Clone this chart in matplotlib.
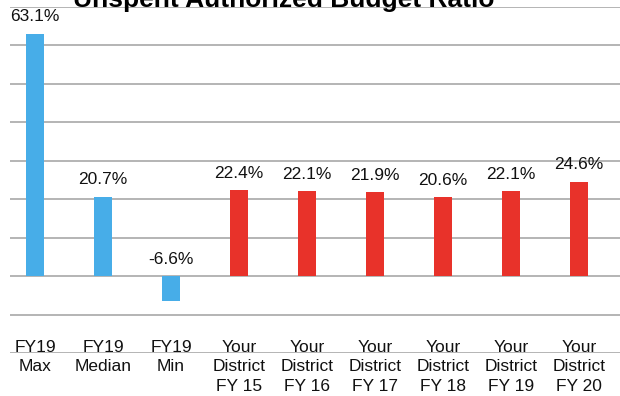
import matplotlib
matplotlib.use('Agg')
import matplotlib.pyplot as plt

# category labels and unspent budget ratios (%)
categories = ['FY19\nMax', 'FY19\nMedian', 'FY19\nMin',
              'Your\nDistrict\nFY 15', 'Your\nDistrict\nFY 16', 'Your\nDistrict\nFY 17',
              'Your\nDistrict\nFY 18', 'Your\nDistrict\nFY 19', 'Your\nDistrict\nFY 20']
values = [63.1, 20.7, -6.6, 22.4, 22.1, 21.9, 20.6, 22.1, 24.6]
groups = ['state', 'state', 'state', 'district', 'district', 'district',
          'district', 'district', 'district']

group_colors = {'state': '#47ADE8', 'district': '#E8322A'}


def main():
    plt.rcParams['font.family'] = ['Liberation Sans', 'DejaVu Sans']

    fig = plt.figure(figsize=(6.2, 3.96), dpi=100)
    ax = fig.add_axes([10 / 620, 43 / 396, 610 / 620, 346 / 396])

    x = list(range(len(categories)))
    colors = [group_colors[g] for g in groups]
    ax.bar(x, values, width=0.27, color=colors, zorder=3)

    # value labels sit above the bar, or above zero for negative bars
    for xi, v in zip(x, values):
        ax.annotate(f'{v:.1f}%', xy=(xi, max(v, 0)), xytext=(0, 12),
                    textcoords='offset points', ha='center', va='center',
                    fontsize=12.5, color='#111111')

    ax.set_xlim(-0.368, 8.6)
    ax.set_ylim(-20, 70)
    ax.set_yticks(range(-20, 71, 10))
    ax.set_yticklabels([])
    ax.grid(axis='y', color='#A8A8A8', linewidth=1.2, zorder=0)
    ax.set_axisbelow(True)
    for s in ax.spines.values():
        s.set_visible(False)
    ax.tick_params(axis='both', length=0)
    ax.set_xticks(x)
    ax.set_xticklabels(categories, fontsize=12.5, color='#111111', linespacing=1.38)
    ax.tick_params(axis='x', pad=-9.5)

    fig.text(0.458, 1 - 7 / 396, 'Unspent Authorized Budget Ratio',
             ha='center', va='baseline', fontsize=19, fontweight='bold')

    fig.savefig('out.png', dpi=100)


if __name__ == '__main__':
    main()
